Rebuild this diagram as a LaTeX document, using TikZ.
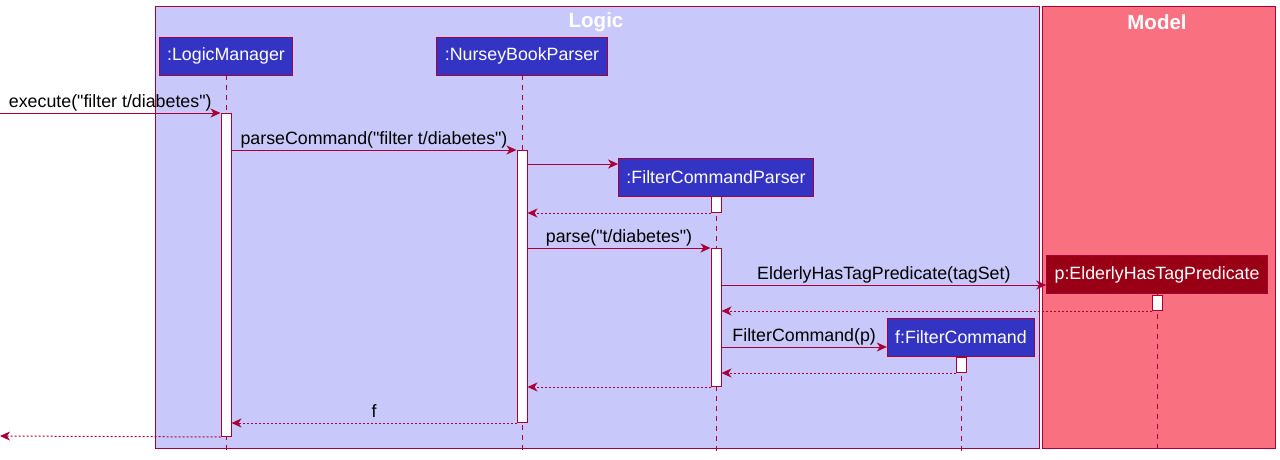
\documentclass[tikz,border=0pt]{standalone}
\usepackage{fontspec}
\setmainfont{Liberation Sans}
\usetikzlibrary{arrows.meta, positioning}
\definecolor{umlred}{HTML}{A80036}
\definecolor{logicbg}{HTML}{C8C8FA}
\definecolor{modelbg}{HTML}{F97181}
\definecolor{partblue}{HTML}{3333C4}
\definecolor{partdark}{HTML}{9A0015}
\tikzstyle{group}=[draw=umlred, line width=1pt]
\tikzstyle{grouptitle}=[text=white, font=\fontsize{20.5}{24}\selectfont\bfseries, inner sep=0pt]
\tikzstyle{participant}=[draw=umlred, line width=0.8pt, text=white, minimum height=38pt, inner xsep=8pt, font=\fontsize{17.8}{21}\selectfont]
\tikzstyle{act}=[draw=umlred, line width=1pt, fill=white, minimum width=10pt, inner sep=0pt, anchor=north]
\tikzstyle{lifeline}=[draw=umlred, line width=0.8pt, dash pattern=on 5pt off 5pt]
\tikzstyle{call}=[draw=umlred, line width=1pt, ->]
\tikzstyle{reply}=[draw=umlred, line width=1pt, dash pattern=on 2pt off 2pt, ->]
\tikzstyle{msg}=[midway, anchor=base, yshift=6pt, inner sep=0pt, text=black, font=\fontsize{17.8}{21}\selectfont]

\begin{document}
\begin{tikzpicture}[x=1pt,y=-1pt,>={Stealth[length=10pt,width=9pt,inset=3pt]}]
  \useasboundingbox (0,0) rectangle (1280,460);

  % packages
  \draw[group, fill=logicbg] (155,7) rectangle (1039,448);
  \draw[group, fill=modelbg] (1042,7) rectangle (1275,448);
  \node[grouptitle] (T-logic) at (596,22) {Logic};
  \node[grouptitle] (T-model) at (1157,22) {Model};

  \foreach \name/\lbl/\x/\y/\clr in {LM/:LogicManager/226/56/partblue, NB/:NurseyBookParser/522/56/partblue, FP/:FilterCommandParser/716/177/partblue, PR/p:ElderlyHasTagPredicate/1157/274.5/partdark, FC/f:FilterCommand/961/337/partblue}
    \node[participant, fill=\clr] (P-\name) at (\x,\y) {\lbl};

  \foreach \name in {LM, NB, FP, PR, FC}
    \draw[lifeline] (P-\name) -- (P-\name |- 0,453);

  % activations
  \foreach \name/\p/\y/\h in {LM/LM/113/323, NB/NB/150/272, FP1/FP/196/16, FP2/FP/248/138, PR/PR/295/15, FC/FC/357/15}
    \node[act, minimum height=\h pt] (A-\name) at (P-\p.south |- 0,\y) {};

  \coordinate (in) at (0,113);
  \coordinate (out) at (0,436);

  \draw[call] (in) -- (A-LM.north west) node[msg] {execute(\textquotedbl filter t/diabetes\textquotedbl)};
  \draw[call] (A-LM.east |- A-NB.north) -- (A-NB.north west) node[msg] {parseCommand(\textquotedbl filter t/diabetes\textquotedbl)};
  \draw[call] (A-NB.east |- 0,164) -- (P-FP.west |- 0,164);
  \draw[reply] (A-FP1.south west) -- (A-NB.east |- A-FP1.south);
  \draw[call] (A-NB.east |- A-FP2.north) -- (A-FP2.north west) node[msg] {parse(\textquotedbl t/diabetes\textquotedbl)};
  \draw[call] (A-FP2.east |- 0,285) -- (P-PR.west |- 0,285) node[msg] {ElderlyHasTagPredicate(tagSet)};
  \draw[reply] (A-PR.south west) -- (A-FP2.east |- A-PR.south);
  \draw[call] (A-FP2.east |- 0,347) -- (P-FC.west |- 0,347) node[msg] {FilterCommand(p)};
  \draw[reply] (A-FC.south west) -- (A-FP2.east |- A-FC.south);
  \draw[reply] (A-FP2.south west) -- (A-NB.east |- A-FP2.south);
  \draw[reply] (A-NB.south west) -- (A-LM.east |- A-NB.south) node[msg] {f};
  \draw[reply] (A-LM.south west) -- (out);

\end{tikzpicture}
\end{document}
